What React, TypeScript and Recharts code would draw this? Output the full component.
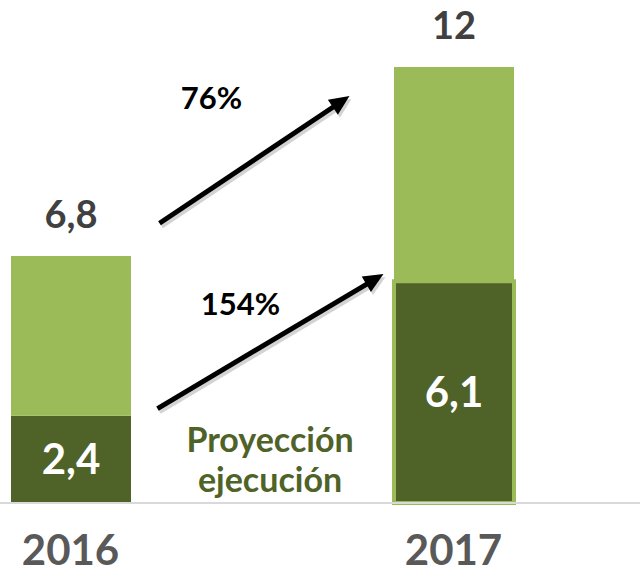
import { Bar, BarChart, Cell, Customized, LabelList, ReferenceLine, XAxis, YAxis } from 'recharts';

const years = ['2016', '2017'];
const executed = [2.4, 6.1];
const remaining = [4.4, 5.9];
const totals = [6.8, 12];

// growth arrows, anchored in value units on each year
const arrowFrom = [7.7, 2.6];
const arrowTo = [11.2, 6.3];
const arrowLabels = ['76%', '154%'];

const data = years.map((year, i) => ({
  year,
  executed: executed[i],
  remaining: remaining[i],
  total: totals[i],
}));

const LIGHT = '#9bbb59';
const DARK = '#4f6228';
const FONT = 'Lato, "Open Sans", sans-serif';
const SHIFT = 121; // chart is drawn wider than the page and shifted left

const fmt = (v: unknown) => String(v).replace('.', ',');

interface ArrowProps {
  x1?: number;
  y1?: number;
  x2?: number;
  y2?: number;
  startDx: number;
  endDx: number;
  label: string;
  labelDx: number;
  labelDy: number;
}

function Arrow({ x1 = 0, y1 = 0, x2 = 0, y2 = 0, startDx, endDx, label, labelDx, labelDy }: ArrowProps) {
  const sx = Number(x1) + startDx;
  const sy = Number(y1);
  const ex = Number(x2) + endDx;
  const ey = Number(y2);
  const len = Math.hypot(ex - sx, ey - sy);
  const ux = (ex - sx) / len;
  const uy = (ey - sy) / len;
  const head = 20;
  const half = 9;
  const bx = ex - ux * head;
  const by = ey - uy * head;
  const pts = `${ex},${ey} ${bx - uy * half},${by + ux * half} ${bx + uy * half},${by - ux * half}`;
  const mx = (sx + ex) / 2;
  const my = (sy + ey) / 2;
  return (
    <g>
      <g transform="translate(2,3)" opacity={0.25}>
        <line x1={sx} y1={sy} x2={bx + ux * 4} y2={by + uy * 4} stroke="#555" strokeWidth={5} />
        <polygon points={pts} fill="#555" />
      </g>
      <line x1={sx} y1={sy} x2={bx + ux * 4} y2={by + uy * 4} stroke="#000" strokeWidth={5} />
      <polygon points={pts} fill="#000" />
      <text
        x={mx + labelDx}
        y={my + labelDy + 11}
        textAnchor="middle"
        fontFamily={FONT}
        fontWeight={700}
        fontSize={31}
        fill="#000"
      >
        {label}
      </text>
    </g>
  );
}

const arrowOffsets = [
  { startDx: 89, endDx: -104, labelDx: -43, labelDy: -62 },
  { startDx: 87, endDx: -70, labelDx: -30, labelDy: -37 },
];

export default function App() {
  return (
    <div
      style={{
        position: 'absolute',
        left: 0,
        top: 0,
        width: 640,
        height: 576,
        overflow: 'hidden',
        background: '#fff',
        fontFamily: FONT,
      }}
    >
      <div style={{ position: 'absolute', left: -SHIFT, top: 0 }}>
        <BarChart
          width={766}
          height={576}
          data={data}
          margin={{ top: 67, right: 0, bottom: 0, left: 0 }}
        >
          <XAxis
            dataKey="year"
            height={73}
            axisLine={{ stroke: '#d9d9d9', strokeWidth: 2 }}
            tickLine={false}
            tickMargin={26}
            tick={{ fill: '#595959', fontSize: 42, fontWeight: 700, fontFamily: FONT }}
          />
          <YAxis hide domain={[0, 12]} />
          <Bar dataKey="executed" stackId="a" barSize={120} fill={DARK} isAnimationActive={false}>
            {data.map((d, i) => (
              <Cell key={d.year} stroke={i === 1 ? LIGHT : 'none'} strokeWidth={i === 1 ? 4 : 0} />
            ))}
            <LabelList
              dataKey="executed"
              position="center"
              formatter={fmt}
              fill="#fff"
              fontSize={42}
              fontWeight={700}
              fontFamily={FONT}
            />
          </Bar>
          <Bar dataKey="remaining" stackId="a" barSize={120} fill={LIGHT} isAnimationActive={false}>
            <LabelList
              dataKey="total"
              position="top"
              offset={28}
              formatter={fmt}
              fill="#404040"
              fontSize={38}
              fontWeight={700}
              fontFamily={FONT}
            />
          </Bar>
          {arrowLabels.map((label, i) => (
            <ReferenceLine
              key={label}
              ifOverflow="visible"
              segment={[
                { x: years[0], y: arrowFrom[i] },
                { x: years[1], y: arrowTo[i] },
              ]}
              shape={(p: any) => <Arrow {...p} label={label} {...arrowOffsets[i]} />}
            />
          ))}
          <Customized
            component={() => (
              <g fontFamily={FONT} fontWeight={700} fontSize={34} fill={DARK} textAnchor="middle">
                <text x={270 + SHIFT} y={452}>Proyección</text>
                <text x={270 + SHIFT} y={492}>ejecución</text>
              </g>
            )}
          />
        </BarChart>
      </div>
    </div>
  );
}
